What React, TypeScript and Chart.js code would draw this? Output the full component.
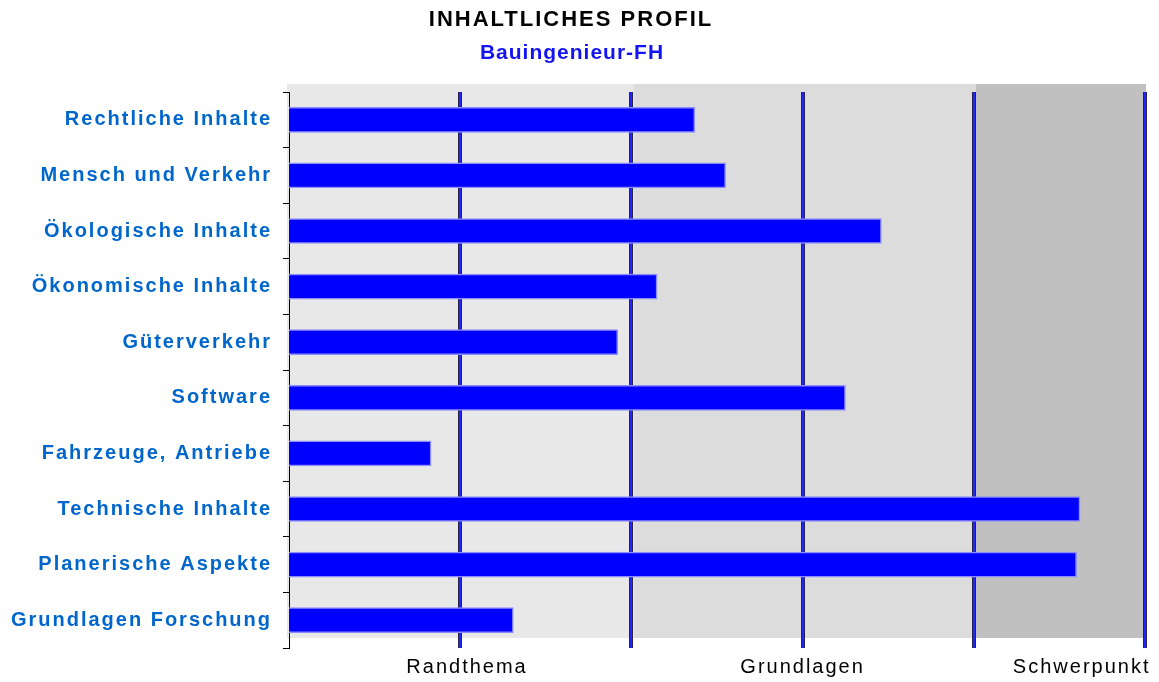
import { useEffect, useRef } from "react";
import { Chart, registerables } from "chart.js";

Chart.register(...registerables);

const categories = [
  "Rechtliche Inhalte",
  "Mensch und Verkehr",
  "Ökologische Inhalte",
  "Ökonomische Inhalte",
  "Güterverkehr",
  "Software",
  "Fahrzeuge, Antriebe",
  "Technische Inhalte",
  "Planerische Aspekte",
  "Grundlagen Forschung",
];
const values = [2.37, 2.55, 3.46, 2.15, 1.92, 3.25, 0.83, 4.62, 4.6, 1.31];
const xTickValues = [1.04, 3, 4.63];
const xTickLabels = ["Randthema", "Grundlagen", "Schwerpunkt"];
const bandStops = [0, 2, 4, 5];
const bandColors = ["#e8e8e8", "#dcdcdc", "#c0c0c0"];
const gridValues = [1, 2, 3, 4, 5];
const titleText = "INHALTLICHES PROFIL";
const subtitleText = "Bauingenieur-FH";

const FONT = '"Liberation Sans", Arial, Helvetica, sans-serif';

const decoPlugin = {
  id: "deco",
  beforeDraw(chart: any) {
    const { ctx, chartArea } = chart;
    const x = chart.scales.x;
    ctx.save();
    const top = chartArea.top - 8;
    const bottom = chartArea.bottom - 10;
    for (let i = 0; i < bandColors.length; i++) {
      const last = i === bandColors.length - 1;
      const x0 = x.getPixelForValue(bandStops[i]) + (i === 0 ? -2 : 2);
      const x1 = x.getPixelForValue(bandStops[i + 1]) + (last ? 1 : 2);
      ctx.fillStyle = bandColors[i];
      ctx.fillRect(x0, top, x1 - x0, bottom - top);
    }
    ctx.restore();
    (ctx as any).letterSpacing = "2px";
  },
  beforeDatasetsDraw(chart: any) {
    const { ctx, chartArea } = chart;
    const x = chart.scales.x;
    ctx.save();
    for (const v of gridValues) {
      const px = Math.round(x.getPixelForValue(v));
      ctx.fillStyle = "#24244a";
      ctx.fillRect(px - 2, chartArea.top, 4, chartArea.bottom - chartArea.top);
      ctx.fillStyle = "#2424ff";
      ctx.fillRect(px - 1, chartArea.top, 2, chartArea.bottom - chartArea.top);
    }
    ctx.restore();
  },
  afterDraw(chart: any) {
    const { ctx } = chart;
    ctx.save();
    ctx.textAlign = "center";
    ctx.textBaseline = "middle";
    (ctx as any).letterSpacing = "2px";
    ctx.font = `bold 22px ${FONT}`;
    ctx.fillStyle = "#000000";
    ctx.fillText(titleText, 571, 20);
    (ctx as any).letterSpacing = "1px";
    ctx.font = `bold 21px ${FONT}`;
    ctx.fillStyle = "#1414f0";
    ctx.fillText(subtitleText, 572, 53);
    ctx.restore();
  },
};

export default function App() {
  const ref = useRef<HTMLCanvasElement | null>(null);

  useEffect(() => {
    if (!ref.current) return;
    const chart = new Chart(ref.current, {
      type: "bar",
      data: {
        labels: categories,
        datasets: [
          {
            data: values,
            backgroundColor: "#0000ff",
            borderColor: "#8c8cff",
            borderWidth: 1.5,
            barThickness: 25,
          },
        ],
      },
      options: {
        indexAxis: "y",
        animation: false,
        responsive: false,
        maintainAspectRatio: false,
        layout: { padding: { top: 92, right: 14, left: 0, bottom: 0 } },
        plugins: {
          legend: { display: false },
          title: { display: false },
          tooltip: { enabled: false },
        },
        scales: {
          x: {
            type: "linear",
            min: 0,
            max: 5,
            afterFit: (scale: any) => {
              scale.height = 34;
            },
            afterBuildTicks: (axis: any) => {
              axis.ticks = xTickValues.map((v) => ({ value: v }));
            },
            grid: { display: false, drawTicks: false },
            border: { display: false },
            ticks: {
              autoSkip: false,
              maxRotation: 0,
              padding: 7,
              color: "#000000",
              font: { family: FONT, size: 20 },
              callback: (v: any) => {
                const i = xTickValues.indexOf(Number(v));
                return i >= 0 ? xTickLabels[i] : "";
              },
            },
          },
          y: {
            type: "category",
            z: 1,
            afterFit: (scale: any) => {
              scale.width = 289;
            },
            grid: {
              drawOnChartArea: false,
              drawTicks: true,
              tickLength: 6,
              color: "#000000",
              offset: true,
            },
            border: { display: true, color: "#000000", width: 1 },
            ticks: {
              padding: 11,
              color: "#0066cc",
              font: { family: FONT, size: 20, weight: "bold" },
            },
          },
        },
      },
      plugins: [decoPlugin],
    });
    return () => chart.destroy();
  }, []);

  return (
    <div style={{ position: "absolute", left: 0, top: 0, width: 1159, height: 682, background: "#ffffff" }}>
      <canvas ref={ref} width={1159} height={682} style={{ display: "block" }} />
    </div>
  );
}
